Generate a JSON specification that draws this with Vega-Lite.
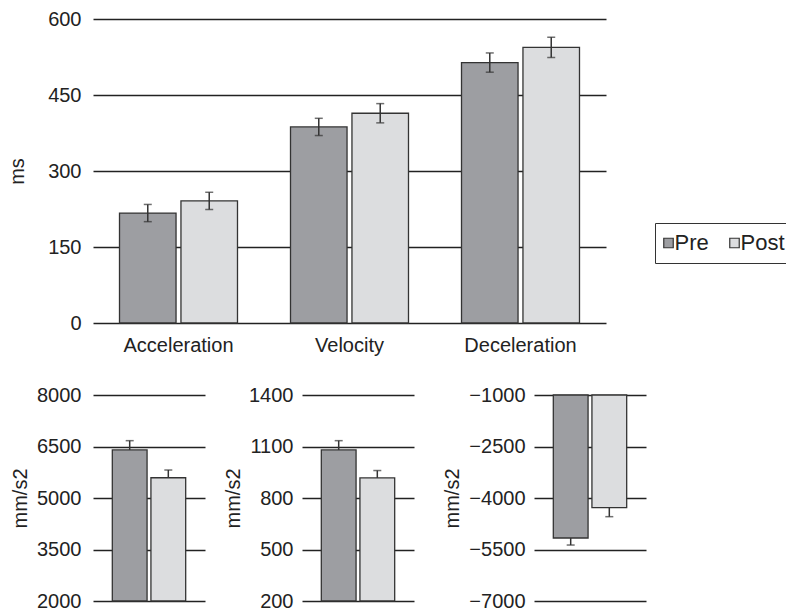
{
  "$schema": "https://vega.github.io/schema/vega-lite/v6.json",
  "background": "white",
  "padding": {"left": 7, "top": 9, "right": 0, "bottom": 0},
  "config": {
    "font": "Liberation Sans",
    "view": {"stroke": null},
    "axis": {
      "labelFont": "Liberation Sans", "labelFontSize": 20, "labelColor": "#222",
      "titleFont": "Liberation Sans", "titleFontSize": 20, "titleFontWeight": "normal", "titleColor": "#222",
      "domain": false, "ticks": false, "gridColor": "#222", "gridOpacity": 1, "gridWidth": 1.3,
      "labelFlush": false, "labelOverlap": false
    },
    "tick": {"color": "#333", "thickness": 1.5},
    "rule": {"color": "#333", "strokeWidth": 1.5}
  },
  "spacing": 30,
  "vconcat": [
    {
      "width": 513,
      "height": 304,
      "data": {"values": [
        {"measure": "Acceleration", "period": "Pre", "mean": 217, "lo": 200, "hi": 234},
        {"measure": "Acceleration", "period": "Post", "mean": 241, "lo": 224, "hi": 258},
        {"measure": "Velocity", "period": "Pre", "mean": 387, "lo": 370, "hi": 404},
        {"measure": "Velocity", "period": "Post", "mean": 414, "lo": 395, "hi": 433},
        {"measure": "Deceleration", "period": "Pre", "mean": 514, "lo": 495, "hi": 533},
        {"measure": "Deceleration", "period": "Post", "mean": 544, "lo": 524, "hi": 564}
      ]},
      "encoding": {
        "x": {"field": "measure", "type": "nominal", "sort": ["Acceleration", "Velocity", "Deceleration"],
              "scale": {"paddingInner": 0.31, "paddingOuter": 0.155},
              "axis": {"title": null, "labelAngle": 0, "labelPadding": 12, "grid": false}},
        "xOffset": {"field": "period", "type": "nominal", "sort": ["Pre", "Post"], "scale": {"paddingInner": 0.08, "paddingOuter": 0}}
      },
      "layer": [
        {
          "mark": {"type": "bar", "stroke": "#333", "strokeWidth": 1.3},
          "encoding": {
            "y": {"field": "mean", "type": "quantitative", "title": "ms", "scale": {"domain": [0, 600]},
                  "axis": {"values": [0, 150, 300, 450, 600], "titlePadding": 20, "labelPadding": 12, "grid": true, "format": "d"}},
            "color": {"field": "period", "type": "nominal", "sort": ["Pre", "Post"],
                      "scale": {"domain": ["Pre", "Post"], "range": ["#9d9ea2", "#dcdddf"]},
                      "legend": {"orient": "none", "legendX": 562, "legendY": 204, "direction": "horizontal", "title": null,
                                 "symbolType": "square", "symbolSize": 90, "symbolStrokeColor": "#333", "symbolStrokeWidth": 1.2,
                                 "symbolOffset": -6.5,
                                 "labelFont": "Liberation Sans", "labelFontSize": 22, "labelColor": "#222", "labelOffset": -5,
                                 "columnPadding": 18, "padding": 9, "strokeColor": "#333", "fillColor": "white"}}
          }
        },
        {
          "mark": {"type": "rule"},
          "encoding": {"y": {"field": "lo", "type": "quantitative", "title": "ms"}, "y2": {"field": "hi"}}
        },
        {
          "mark": {"type": "tick", "size": 8},
          "encoding": {"y": {"field": "lo", "type": "quantitative", "title": "ms"}}
        },
        {
          "mark": {"type": "tick", "size": 8},
          "encoding": {"y": {"field": "hi", "type": "quantitative", "title": "ms"}}
        }
      ]
    },
    {
      "spacing": 28,
      "hconcat": [
        {
          "spacing": 18,
          "hconcat": [
            {
              "width": 112,
              "height": 206,
              "data": {"values": [
                {"period": "Pre", "mean": 6400, "hi": 6670},
                {"period": "Post", "mean": 5590, "hi": 5815}
              ]},
              "encoding": {
                "x": {"field": "period", "type": "nominal", "sort": ["Pre", "Post"], "scale": {"paddingInner": 0.1, "paddingOuter": 0.5}, "axis": null}
              },
              "layer": [
                {
                  "mark": {"type": "bar", "stroke": "#333", "strokeWidth": 1.3},
                  "encoding": {
                    "y": {"field": "mean", "type": "quantitative", "title": "mm/s2", "scale": {"domain": [2000, 8000], "zero": false},
                          "axis": {"values": [2000, 3500, 5000, 6500, 8000], "titlePadding": 6, "labelPadding": 12, "grid": true, "format": "d"}},
                    "y2": {"datum": 2000},
                    "color": {"field": "period", "type": "nominal", "sort": ["Pre", "Post"]}
                  }
                },
                {
                  "mark": {"type": "rule"},
                  "encoding": {"y": {"field": "mean", "type": "quantitative", "title": "mm/s2"}, "y2": {"field": "hi"}}
                },
                {
                  "mark": {"type": "tick", "size": 8},
                  "encoding": {"y": {"field": "hi", "type": "quantitative", "title": "mm/s2"}}
                }
              ]
            },
            {
              "width": 112,
              "height": 206,
              "data": {"values": [
                {"period": "Pre", "mean": 1080, "hi": 1134},
                {"period": "Post", "mean": 917, "hi": 960}
              ]},
              "encoding": {
                "x": {"field": "period", "type": "nominal", "sort": ["Pre", "Post"], "scale": {"paddingInner": 0.1, "paddingOuter": 0.5}, "axis": null}
              },
              "layer": [
                {
                  "mark": {"type": "bar", "stroke": "#333", "strokeWidth": 1.3},
                  "encoding": {
                    "y": {"field": "mean", "type": "quantitative", "title": "mm/s2", "scale": {"domain": [200, 1400], "zero": false},
                          "axis": {"values": [200, 500, 800, 1100, 1400], "titlePadding": 5, "labelPadding": 9, "grid": true, "format": "d"}},
                    "y2": {"datum": 200},
                    "color": {"field": "period", "type": "nominal", "sort": ["Pre", "Post"]}
                  }
                },
                {
                  "mark": {"type": "rule"},
                  "encoding": {"y": {"field": "mean", "type": "quantitative", "title": "mm/s2"}, "y2": {"field": "hi"}}
                },
                {
                  "mark": {"type": "tick", "size": 8},
                  "encoding": {"y": {"field": "hi", "type": "quantitative", "title": "mm/s2"}}
                }
              ]
            }
          ]
        },
        {
          "width": 112,
          "height": 206,
          "data": {"values": [
            {"period": "Pre", "mean": -5165, "lo": -5370},
            {"period": "Post", "mean": -4282, "lo": -4544}
          ]},
          "encoding": {
            "x": {"field": "period", "type": "nominal", "sort": ["Pre", "Post"], "scale": {"paddingInner": 0.1, "paddingOuter": 0.5}, "axis": null}
          },
          "layer": [
            {
              "mark": {"type": "bar", "stroke": "#333", "strokeWidth": 1.3},
              "encoding": {
                "y": {"field": "mean", "type": "quantitative", "title": "mm/s2", "scale": {"domain": [-7000, -1000], "zero": false},
                      "axis": {"values": [-7000, -5500, -4000, -2500, -1000], "titlePadding": 6, "labelPadding": 9, "grid": true, "format": "d"}},
                "y2": {"datum": -1000},
                "color": {"field": "period", "type": "nominal", "sort": ["Pre", "Post"]}
              }
            },
            {
              "mark": {"type": "rule"},
              "encoding": {"y": {"field": "lo", "type": "quantitative", "title": "mm/s2"}, "y2": {"field": "mean"}}
            },
            {
              "mark": {"type": "tick", "size": 8},
              "encoding": {"y": {"field": "lo", "type": "quantitative", "title": "mm/s2"}}
            }
          ]
        }
      ]
    }
  ]
}
